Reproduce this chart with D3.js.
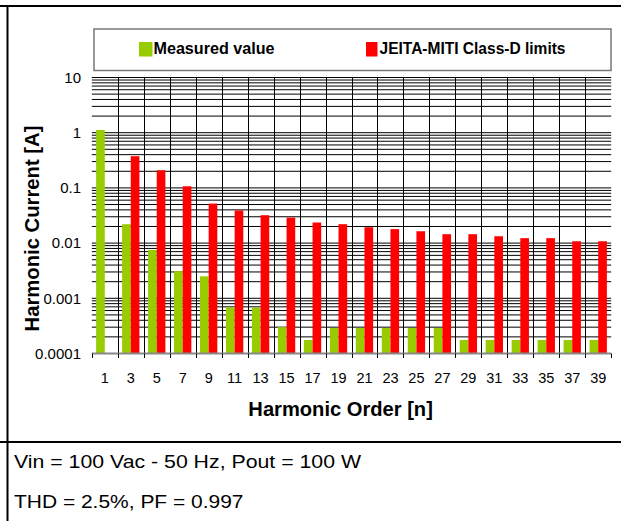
<!DOCTYPE html>
<html><head><meta charset="utf-8">
<script src="https://cdn.jsdelivr.net/npm/d3@7"></script>
<style>
html,body{margin:0;padding:0;background:#fff;}
svg{display:block;font-family:"Liberation Sans",Arial,Helvetica,sans-serif;}
</style></head>
<body>
<svg id="c" width="621" height="521"></svg>
<script>
const categories = [1,3,5,7,9,11,13,15,17,19,21,23,25,27,29,31,33,35,37,39];
const measuredValue = [1.12,0.022,0.0075,0.0031,0.0025,0.00068,0.00068,0.0003,0.000176,0.00029,0.00029,0.00029,0.00029,0.00029,0.000176,0.000176,0.000176,0.000176,0.000176,0.000176];
const jeitaLimits = [null,0.375,0.209,0.107,0.052,0.039,0.032,0.029,0.0236,0.022,0.0194,0.0179,0.0164,0.0145,0.0145,0.0133,0.0123,0.0123,0.0108,0.0108];
const seriesNames = ["Measured value","JEITA-MITI Class-D limits"];
const seriesColors = ["#99CC00","#FF0000"];
const yTickValues = [10,1,0.1,0.01,0.001,0.0001];
const yTickLabels = ["10","1","0.1","0.01","0.001","0.0001"];
const xTitle = "Harmonic Order [n]";
const yTitle = "Harmonic Current [A]";
const notes = ["Vin = 100 Vac - 50 Hz, Pout = 100 W","THD = 2.5%, PF = 0.997"];

const svg = d3.select("#c");
const L = 91.8, R = 611.2, T = 77.5, B = 353.5;

const x = d3.scaleBand().domain(categories).range([L, R]).paddingInner(0).paddingOuter(0);
const xs = d3.scaleBand().domain([0,1]).range([0, x.bandwidth()]).paddingInner(0).paddingOuter(0.5);
const y = d3.scaleLog().domain([1e-4, 10]).range([B, T]);

// frame
svg.append("line").attr("x1",0).attr("x2",621).attr("y1",6).attr("y2",6).attr("stroke","#000").attr("stroke-width",2);
svg.append("line").attr("x1",7.5).attr("x2",7.5).attr("y1",5).attr("y2",521).attr("stroke","#000").attr("stroke-width",2);
svg.append("line").attr("x1",0).attr("x2",621).attr("y1",442).attr("y2",442).attr("stroke","#000").attr("stroke-width",2);

// legend
const lg = svg.append("g");
lg.append("rect").attr("x",94).attr("y",29).attr("width",517).attr("height",41.5)
  .attr("fill","#fff").attr("stroke","#777").attr("stroke-width",1.5);
const legX = [139, 366];
const legTextLen = [121, 186];
seriesNames.forEach((n,i)=>{
  lg.append("rect").attr("x",legX[i]).attr("y",42).attr("width",i===0?13.5:11.5).attr("height",14.5).attr("fill",seriesColors[i]);
  lg.append("text").attr("x",legX[i]+(i===0?14.5:13.5)).attr("y",54).attr("font-size",16).attr("font-weight","bold")
    .attr("textLength",legTextLen[i]).attr("lengthAdjust","spacingAndGlyphs").text(n);
});

// horizontal grid (log minor + major)
const gridVals = [];
for (let e=-4; e<1; e++) for (let k=1; k<=9; k++) { const v = k*Math.pow(10,e); if (v>1e-4) gridVals.push(v); }
gridVals.push(10);
svg.append("g").selectAll("line").data(gridVals).join("line")
  .attr("x1",L).attr("x2",R).attr("y1",d=>y(d)).attr("y2",d=>y(d))
  .attr("stroke","#000").attr("stroke-width",1);

// vertical grid at band boundaries (internal)
const bounds = categories.map(c=>x(c)).concat([R]);
svg.append("g").selectAll("line").data(bounds.slice(1,-1)).join("line")
  .attr("x1",d=>Math.round(d)+0.5).attr("x2",d=>Math.round(d)+0.5).attr("y1",T).attr("y2",B)
  .attr("stroke","#000").attr("stroke-width",1);

// bars
const bars = svg.append("g");
categories.forEach((c,i)=>{
  [measuredValue[i], jeitaLimits[i]].forEach((v,s)=>{
    if (v==null) return;
    bars.append("rect").attr("x",x(c)+xs(s)).attr("width",xs.bandwidth())
      .attr("y",y(v)).attr("height",B-y(v)).attr("fill",seriesColors[s]);
  });
});

// x axis line and ticks
svg.append("line").attr("x1",L).attr("x2",R).attr("y1",B).attr("y2",B).attr("stroke","#888").attr("stroke-width",2);
svg.append("g").selectAll("line").data(bounds).join("line")
  .attr("x1",d=>Math.round(d)+0.5).attr("x2",d=>Math.round(d)+0.5).attr("y1",B).attr("y2",B+4.5)
  .attr("stroke","#000").attr("stroke-width",1);

// x tick labels
svg.append("g").selectAll("text").data(categories).join("text")
  .attr("x",d=>x(d)+x.bandwidth()/2).attr("y",382.5).attr("text-anchor","middle")
  .attr("font-size",14.5).attr("fill","#000").text(d=>d);

// y tick labels
svg.append("g").selectAll("text").data(yTickValues).join("text")
  .attr("x",81).attr("y",d=>y(d)+5.3).attr("text-anchor","end")
  .attr("font-size",15).attr("fill","#000").text((d,i)=>yTickLabels[i]);

// axis titles
svg.append("text").attr("x",340.6).attr("y",415.5).attr("text-anchor","middle")
  .attr("font-size",20).attr("font-weight","bold")
  .attr("textLength",184.5).attr("lengthAdjust","spacingAndGlyphs").text(xTitle);
svg.append("text").attr("transform","translate(38.5,228.5) rotate(-90)").attr("text-anchor","middle")
  .attr("font-size",20).attr("font-weight","bold")
  .attr("textLength",206).attr("lengthAdjust","spacingAndGlyphs").text(yTitle);

// notes
const noteY = [467.5, 507.5];
const noteLen = [347, 229.5];
notes.forEach((t,i)=>{
  svg.append("text").attr("x",14).attr("y",noteY[i]).attr("font-size",17.5)
    .attr("textLength",noteLen[i]).attr("lengthAdjust","spacingAndGlyphs").text(t);
});
</script>
</body></html>
